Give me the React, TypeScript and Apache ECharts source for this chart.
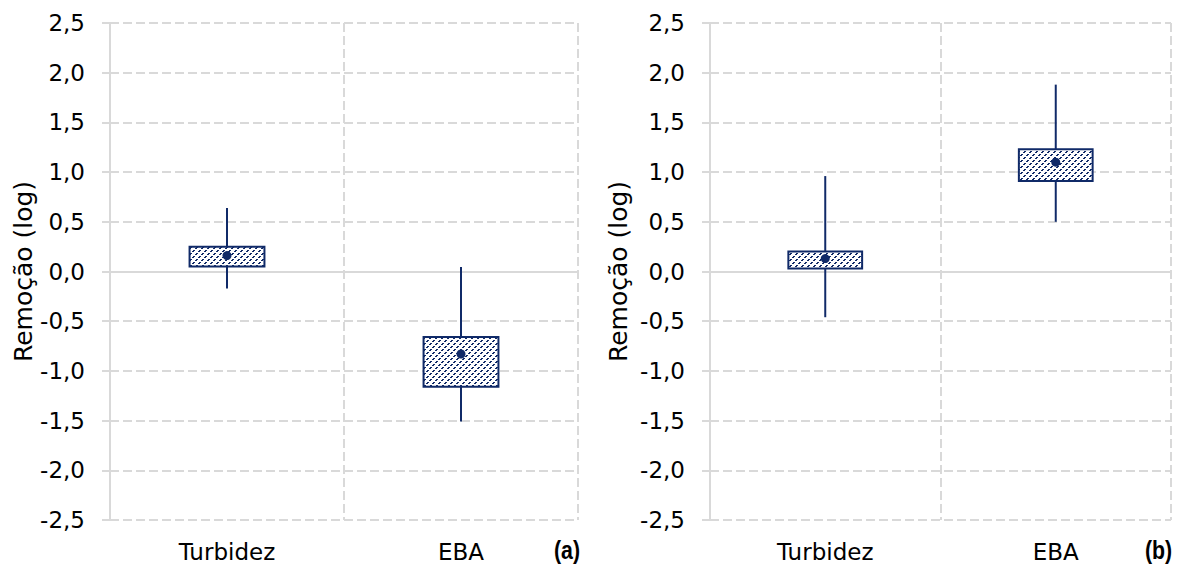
import React, { useEffect, useRef } from "react";
import * as echarts from "echarts";

const categories = ["Turbidez", "EBA"];

// Chart (a)
const aMin = [-0.17, -1.51];
const aQ1 = [0.05, -1.16];
const aQ3 = [0.25, -0.66];
const aMax = [0.64, 0.045];
const aMean = [0.16, -0.83];

// Chart (b)
const bMin = [-0.46, 0.5];
const bQ1 = [0.03, 0.91];
const bQ3 = [0.2, 1.23];
const bMax = [0.96, 1.88];
const bMean = [0.13, 1.1];

const NAVY = "#102a68";
const GRID = "#d9d9d9";
const FONT = "DejaVu Sans";

function makePattern() {
  const n = 6;
  const c = document.createElement("canvas");
  c.width = n;
  c.height = n;
  const ctx = c.getContext("2d")!;
  ctx.fillStyle = "#ffffff";
  ctx.fillRect(0, 0, n, n);
  ctx.fillStyle = NAVY;
  for (const x of [0, 1, 3, 4]) {
    ctx.fillRect(x, n - 1 - x, 1, 1);
    ctx.fillRect((x + 1) % n, n - 1 - x, 1, 1);
  }
  return c;
}

export default function App() {
  const ref = useRef<HTMLDivElement>(null);
  useEffect(() => {
    document.body.style.margin = "0";
    const chart = echarts.init(ref.current!, null, { renderer: "svg" });
    const pattern = { image: makePattern(), repeat: "repeat" };

    const build = (mn: number[], q1: number[], q3: number[], mx: number[], mean: number[]) =>
      categories.map((_, i) => [i, mn[i], q1[i], q3[i], mx[i], mean[i]]);

    const renderItem = (params: any, api: any) => {
      const cat = api.value(0);
      const pMin = api.coord([cat, api.value(1)]);
      const pQ1 = api.coord([cat, api.value(2)]);
      const pQ3 = api.coord([cat, api.value(3)]);
      const pMax = api.coord([cat, api.value(4)]);
      const pMean = api.coord([cat, api.value(5)]);
      const w = api.size([1, 0])[0] * 0.32;
      const x = pMin[0];
      return {
        type: "group",
        children: [
          {
            type: "line",
            shape: { x1: x, y1: pMax[1], x2: x, y2: pMin[1] },
            style: { stroke: NAVY, lineWidth: 2 },
          },
          {
            type: "rect",
            shape: { x: x - w / 2, y: pQ3[1], width: w, height: pQ1[1] - pQ3[1] },
            style: { fill: pattern, stroke: NAVY, lineWidth: 2 },
          },
          {
            type: "circle",
            shape: { cx: pMean[0], cy: pMean[1], r: 4.5 },
            style: { fill: NAVY },
          },
        ],
      };
    };

    const xAxisDef = (gi: number) => ({
      type: "category",
      gridIndex: gi,
      data: categories,
      boundaryGap: true,
      axisLine: { show: false },
      axisTick: { show: false },
      axisLabel: { fontFamily: FONT, fontSize: 23, color: "#000", margin: 20 },
      splitLine: { show: true, lineStyle: { color: GRID, width: 2, type: [9, 4] } },
    });

    const yAxisDef = (gi: number, gap: number) => ({
      type: "value",
      gridIndex: gi,
      min: -2.5,
      max: 2.5,
      interval: 0.5,
      name: "Remoção (log)",
      nameLocation: "middle",
      nameGap: gap,
      nameTextStyle: { fontFamily: FONT, fontSize: 25, color: "#000" },
      axisLine: { show: true, lineStyle: { color: GRID, width: 2 } },
      axisTick: { show: true, length: 8, lineStyle: { color: GRID, width: 2 } },
      axisLabel: {
        fontFamily: FONT,
        fontSize: 23,
        color: "#000",
        margin: 25,
        formatter: (v: number) => v.toFixed(1).replace(".", ","),
      },
      splitLine: { show: true, lineStyle: { color: GRID, width: 2, type: [9, 4] } },
    });

    const seriesDef = (gi: number, data: any[]) => ({
      type: "custom",
      xAxisIndex: gi,
      yAxisIndex: gi,
      data,
      encode: { x: 0, y: [1, 2, 3, 4, 5] },
      renderItem,
      z: 3,
      clip: false,
      markLine: {
        silent: true,
        symbol: "none",
        z: 1,
        label: { show: false },
        lineStyle: { color: GRID, width: 2, type: "solid" },
        data: [{ yAxis: 0 }],
      },
    });

    const tag = (text: string, x: number) => ({
      type: "text",
      x,
      y: 537,
      scaleX: 0.82,
      style: {
        text,
        fontFamily: "Liberation Sans",
        fontWeight: "bold",
        fontSize: 26,
        fill: "#000",
      },
    });

    chart.setOption({
      animation: false,
      grid: [
        { left: 110, right: 599, top: 23, bottom: 47 },
        { left: 710, right: 6, top: 23, bottom: 47 },
      ],
      xAxis: [xAxisDef(0), xAxisDef(1)],
      yAxis: [yAxisDef(0, 70), yAxisDef(1, 79)],
      series: [
        seriesDef(0, build(aMin, aQ1, aQ3, aMax, aMean)),
        seriesDef(1, build(bMin, bQ1, bQ3, bMax, bMean)),
      ],
      graphic: [tag("(a)", 554), tag("(b)", 1145)],
    });
    return () => chart.dispose();
  }, []);
  return <div ref={ref} style={{ width: 1177, height: 567 }} />;
}
